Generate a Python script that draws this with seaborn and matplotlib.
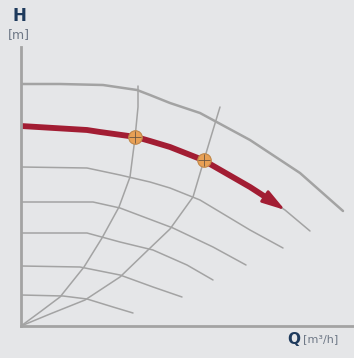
import matplotlib
matplotlib.use("Agg")
import matplotlib.pyplot as plt
import seaborn as sns
import pandas as pd

# ---- data (schematic units: Q flow, H head) ----
# pump curves at different speeds
c1_q = [0, 39, 82, 116, 129, 149, 179, 229, 279, 322]
c1_h = [242, 242, 241, 236, 231, 223, 213, 186, 153, 115]
c2_q = [0, 66, 79, 115, 129, 149, 182, 229, 246, 264, 289]
c2_h = [200, 196, 194, 189, 185, 179, 166, 139, 128, 116, 95]
c3_q = [0, 66, 99, 129, 149, 179, 229, 262]
c3_h = [159, 158, 151, 144, 138, 126, 96, 78]
c4_q = [0, 72, 99, 152, 192, 225]
c4_h = [124, 124, 118, 98, 79, 61]
c5_q = [0, 66, 99, 132, 166, 192]
c5_h = [93, 93, 84, 76, 61, 46]
c6_q = [0, 59, 99, 132, 161]
c6_h = [60, 59, 51, 39, 29]
c7_q = [0, 42, 66, 92, 112]
c7_h = [31, 30, 27, 19, 13]
# system curves
sysL_q = [0, 19, 39, 63, 81, 98, 109, 114, 117, 117]
sysL_h = [0, 14, 29, 59, 88, 119, 149, 188, 219, 240]
sysR_q = [0, 29, 64, 99, 127, 149, 172, 183, 189, 199]
sysR_h = [0, 12, 26, 49, 76, 97, 129, 166, 186, 219]
# operating curve (red) and operating points
op_q = [0, 66, 79, 115, 129, 149, 182, 229, 246]
op_h = [200, 196, 194, 189, 185, 179, 166, 139, 128]
arrow_tip = (264, 116)
pts_q = [114, 183]
pts_h = [189, 166]

BG = "#e5e6e8"
GRAY = "#a3a3a3"
RED = "#a21d33"
NAVY = "#1e3a5c"

sns.set_style("white")
fig = plt.figure(figsize=(3.54, 3.58), dpi=100, facecolor=BG)
ax = fig.add_axes([21 / 354, 32 / 358, 333 / 354, 279 / 358])
ax.set_facecolor(BG)

curves = [(c1_q, c1_h, 1.8), (c2_q, c2_h, 1.1), (c3_q, c3_h, 1.1),
          (c4_q, c4_h, 1.1), (c5_q, c5_h, 1.1), (c6_q, c6_h, 1.1),
          (c7_q, c7_h, 1.1), (sysL_q, sysL_h, 1.1), (sysR_q, sysR_h, 1.1)]
for q, h, lw in curves:
    sns.lineplot(x=q, y=h, sort=False, estimator=None, color=GRAY, lw=lw,
                 ax=ax, solid_joinstyle="round")

sns.lineplot(x=op_q, y=op_h, sort=False, estimator=None, color=RED, lw=4.2,
             ax=ax, solid_capstyle="butt", solid_joinstyle="round")
ax.annotate("", xy=arrow_tip, xytext=(op_q[-1] - 2, op_h[-1] + 1.4),
            arrowprops=dict(arrowstyle="-|>,head_length=1.4,head_width=0.42",
                            mutation_scale=10, color=RED, lw=2, shrinkA=0, shrinkB=0))

sns.scatterplot(x=pts_q, y=pts_h, s=95, color="#e8a055", edgecolor="#c0874a",
                linewidth=0.8, ax=ax, zorder=5)
sns.scatterplot(x=pts_q, y=pts_h, s=70, marker="+", color="#6b5540",
                linewidth=0.6, ax=ax, zorder=6)

ax.set_xlim(0, 333)
ax.set_ylim(0, 279)
ax.set_xticks([])
ax.set_yticks([])
for s in ["top", "right"]:
    ax.spines[s].set_visible(False)
for s in ["left", "bottom"]:
    ax.spines[s].set_color(GRAY)
    ax.spines[s].set_linewidth(2.0)

fig.text(19 / 354, 1 - 16 / 358, "H", ha="center", va="center",
         fontsize=12, fontweight="bold", color=NAVY)
fig.text(19 / 354, 1 - 35 / 358, "[m]", ha="center", va="center",
         fontsize=9, color="#6e7886")
fig.text(300 / 354, 1 - 339 / 358, "Q", ha="right", va="center",
         fontsize=11, fontweight="bold", color=NAVY)
fig.text(303 / 354, 1 - 339 / 358, "[m³/h]", ha="left", va="center",
         fontsize=8, color="#6e7886")

fig.savefig("out.png", dpi=100, facecolor=BG)
